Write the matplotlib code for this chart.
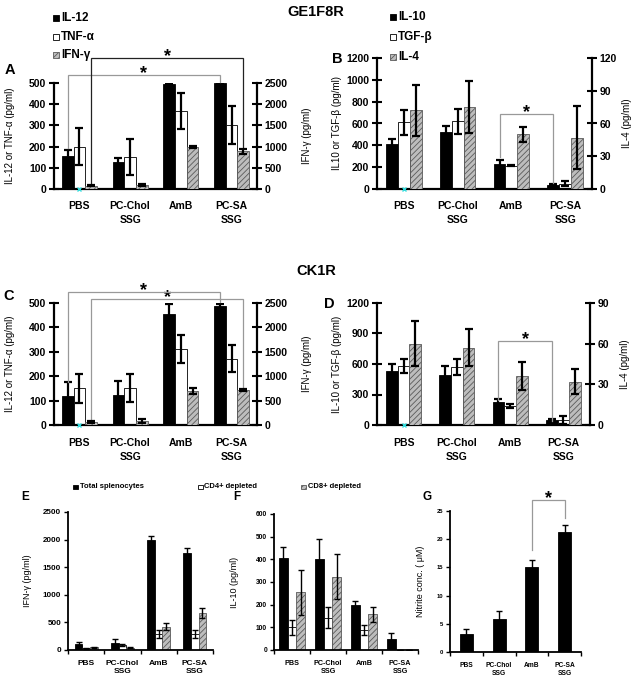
import matplotlib
matplotlib.use('Agg')
import matplotlib.pyplot as plt
import numpy as np
from matplotlib.patches import Rectangle

plt.rcParams['font.family'] = ['Liberation Sans', 'DejaVu Sans']
plt.rcParams['font.weight'] = 'bold'
plt.rcParams['hatch.linewidth'] = 0.6

W, H = 632, 681

categories = ['PBS', 'PC-Chol\nSSG', 'AmB', 'PC-SA\nSSG']

# ---- Panel A (GE1F8R): IL-12, TNF-a (left axis), IFN-g (right axis)
a_il12 = [155, 125, 497, 500]
a_il12_err = [30, 22, 5, 0]
a_tnf = [200, 153, 370, 300]
a_tnf_err = [87, 85, 85, 90]
a_ifng = [75, 95, 1000, 890]
a_ifng_err = [15, 20, 25, 55]

# ---- Panel B (GE1F8R): IL-10, TGF-b (left), IL-4 (right)
b_il10 = [415, 520, 229, 40]
b_il10_err = [40, 60, 38, 8]
b_tgf = [610, 620, 215, 48]
b_tgf_err = [113, 113, 8, 22]
b_il4 = [72, 75, 50, 47]
b_il4_err = [23, 24, 7, 29]

# ---- Panel C (CK1R)
c_il12 = [120, 125, 456, 489]
c_il12_err = [55, 57, 38, 8]
c_tnf = [150, 152, 310, 272]
c_tnf_err = [58, 56, 57, 56]
c_ifng = [62, 75, 690, 720]
c_ifng_err = [12, 40, 60, 18]

# ---- Panel D (CK1R)
d_il10 = [535, 490, 230, 46]
d_il10_err = [68, 95, 22, 10]
d_tgf = [578, 570, 185, 48]
d_tgf_err = [70, 75, 20, 40]
d_il4 = [60, 57, 36, 32]
d_il4_err = [16.5, 13.5, 10.5, 9]

# ---- Panel E: IFN-g
e_total = [110, 133, 2000, 1750]
e_total_err = [40, 60, 60, 90]
e_cd4 = [30, 90, 285, 285]
e_cd4_err = [5, 20, 70, 70]
e_cd8 = [48, 40, 425, 665]
e_cd8_err = [8, 8, 70, 90]

# ---- Panel F: IL-10
f_total = [405, 400, 198, 50]
f_total_err = [50, 90, 20, 26]
f_cd4 = [100, 143, 90, 0]
f_cd4_err = [33, 45, 22, 0]
f_cd8 = [255, 324, 158, 0]
f_cd8_err = [100, 100, 33, 0]

# ---- Panel G: Nitrite
g_nitrite = [3.2, 5.9, 15.1, 21.3]
g_nitrite_err = [0.8, 1.4, 1.2, 1.2]

GREY = '#bdbdbd'
HEDGE = '#5a5a5a'
BRK = '#999999'

st_black = dict(facecolor='black', edgecolor='black', lw=0.6)
st_white = dict(facecolor='white', edgecolor='black', lw=0.6)
st_hatch = dict(facecolor=GREY, edgecolor=HEDGE, hatch='//////', lw=0.6)

fig = plt.figure(figsize=(W / 100, H / 100), dpi=100)


def rect_px(l, t, r, b):
    return [l / W, 1 - b / H, (r - l) / W, (b - t) / H]


def bracket(ax, x1, x2, ytop, y1, y2, color, lw=0.9, fs=13):
    ax.plot([x1, x1, x2, x2], [y1, ytop, ytop, y2], color=color, lw=lw,
            clip_on=False, zorder=6, solid_joinstyle='miter')
    ax.annotate('*', xy=((x1 + x2) / 2, ytop), xytext=(0, -2.5),
                textcoords='offset points', ha='center', va='baseline',
                fontsize=fs, fontweight='bold', annotation_clip=False)


def panel_top(rect, s1, e1, s2, e2, s3, e3, llim, lticks, rlim, rticks,
              lab_l, lab_r, lab_l_x, lab_r_x, w=0.23):
    ax = fig.add_axes(rect)
    x = np.arange(len(categories))
    ax.bar(x - w, s1, w, zorder=2, **st_black)
    ax.errorbar(x - w, s1, yerr=e1, fmt='none', ecolor='black',
                elinewidth=1.6, capsize=3, capthick=1.6, zorder=3)
    ax.bar(x, s2, w, zorder=2, **st_white)
    ax.errorbar(x, s2, yerr=e2, fmt='none', ecolor='black',
                elinewidth=1.6, capsize=3, capthick=1.6, zorder=3)
    ax.set_xlim(-0.5, len(categories) - 0.5)
    ax.set_ylim(*llim)
    ax.set_yticks(lticks)
    ax.set_xticks(x)
    ax.set_xticklabels(categories)
    for t in ax.get_xticklabels():
        t.set_linespacing(1.5)
    ax.tick_params(axis='x', length=0, labelsize=7.5, pad=9)
    ax.tick_params(axis='y', direction='inout', length=7, width=1.5,
                   labelsize=7.5, pad=2)
    for s in ['top', 'right']:
        ax.spines[s].set_visible(False)
    for s in ['left', 'bottom']:
        ax.spines[s].set_linewidth(1.6)
    ax.set_ylabel(lab_l, fontsize=7)
    ax.yaxis.set_label_coords(lab_l_x, 0.5)

    ax2 = ax.twinx()
    ax2.bar(x + w, s3, w, zorder=2, **st_hatch)
    ax2.errorbar(x + w, s3, yerr=e3, fmt='none', ecolor='black',
                 elinewidth=1.6, capsize=3, capthick=1.6, zorder=3)
    ax2.set_ylim(*rlim)
    ax2.set_yticks(rticks)
    ax2.tick_params(axis='y', direction='inout', length=7, width=1.5,
                    labelsize=7.5, pad=2)
    for s in ['top', 'left', 'bottom']:
        ax2.spines[s].set_visible(False)
    ax2.spines['right'].set_linewidth(1.6)
    ax2.set_ylabel(lab_r, fontsize=7, rotation=90)
    ax2.yaxis.set_label_coords(lab_r_x, 0.5)
    # small cyan mark at the base of the PBS middle bar
    ax.plot([x[0]], [0], marker='x', color='#33dddd', ms=3, mew=1,
            clip_on=False, zorder=7)
    return ax, ax2


def panel_bottom(rect, series, errs, styles, ylim, yticks, ylab, lab_x,
                 w, tick_fs, xlab_fs, ylab_fs):
    ax = fig.add_axes(rect)
    x = np.arange(len(categories))
    n = len(series)
    for k, (s, e, st) in enumerate(zip(series, errs, styles)):
        off = (k - (n - 1) / 2) * w
        ax.bar(x + off, s, w, zorder=2, **st)
        ax.errorbar(x + off, s, yerr=e, fmt='none', ecolor='black',
                    elinewidth=1.0, capsize=2.5, capthick=1.0, zorder=3)
    ax.set_xlim(-0.5, len(categories) - 0.5)
    ax.set_ylim(*ylim)
    ax.set_yticks(yticks)
    ax.set_xticks(x)
    ax.set_xticklabels(categories)
    ax.set_xticks(np.arange(len(categories) + 1) - 0.5, minor=True)
    for t in ax.get_xticklabels():
        t.set_linespacing(1.3)
    ax.tick_params(axis='x', which='major', length=0, labelsize=xlab_fs, pad=7)
    ax.tick_params(axis='x', which='minor', length=3, width=1.0, direction='out')
    ax.tick_params(axis='y', direction='out', length=3, width=1.0,
                   labelsize=tick_fs, pad=2)
    for s in ['top', 'right']:
        ax.spines[s].set_visible(False)
    for s in ['left', 'bottom']:
        ax.spines[s].set_linewidth(1.3)
    ax.set_ylabel(ylab, fontsize=ylab_fs)
    ax.yaxis.set_label_coords(lab_x, 0.5)
    return ax


# ---------------- Panel A
w = 0.23
axA, axA2 = panel_top(rect_px(54, 83, 257, 189), a_il12, a_il12_err, a_tnf,
                      a_tnf_err, a_ifng, a_ifng_err, (0, 500),
                      [0, 100, 200, 300, 400, 500], (0, 2500),
                      [0, 500, 1000, 1500, 2000, 2500],
                      'IL-12 or TNF-α (pg/ml)', 'IFN-γ (pg/ml)', -0.19, 1.22)
bracket(axA, 0 - w, 3 - w, 538, 193, 505, BRK)
bracket(axA, 0 + w, 3 + w, 618, 28, 198, '#222222')

# ---------------- Panel B
axB, axB2 = panel_top(rect_px(377, 58, 592, 189), b_il10, b_il10_err, b_tgf,
                      b_tgf_err, b_il4, b_il4_err, (0, 1200),
                      [0, 200, 400, 600, 800, 1000, 1200], (0, 120),
                      [0, 30, 60, 90, 120],
                      'IL10 or TGF-β (pg/ml)', 'IL-4 (pg/ml)', -0.165, 1.14,
                      w=0.22)
bracket(axB, 2 - 0.22, 3 - 0.22, 687, 293, 55, BRK)

# ---------------- Panel C
axC, axC2 = panel_top(rect_px(54, 303, 257, 425), c_il12, c_il12_err, c_tnf,
                      c_tnf_err, c_ifng, c_ifng_err, (0, 500),
                      [0, 100, 200, 300, 400, 500], (0, 2500),
                      [0, 500, 1000, 1500, 2000, 2500],
                      'IL-12 or TNF-α (pg/ml)', 'IFN-γ (pg/ml)', -0.19, 1.22)
bracket(axC, 0 - w, 3 - w, 545, 176, 504, BRK)
bracket(axC, 0 + w, 3 + w, 516, 20, 156, BRK)

# ---------------- Panel D
axD, axD2 = panel_top(rect_px(377, 303, 590, 425), d_il10, d_il10_err, d_tgf,
                      d_tgf_err, d_il4, d_il4_err, (0, 1200),
                      [0, 300, 600, 900, 1200], (0, 90),
                      [0, 30, 60, 90],
                      'IL-10 or TGF-β (pg/ml)', 'IL-4 (pg/ml)', -0.165, 1.14,
                      w=0.22)
bracket(axD, 2 - 0.22, 3 - 0.22, 826, 246, 39, BRK)

# ---------------- Panels E, F, G
axE = panel_bottom(rect_px(68, 512, 213, 650), [e_total, e_cd4, e_cd8],
                   [e_total_err, e_cd4_err, e_cd8_err],
                   [st_black, st_white, st_hatch], (0, 2500),
                   [0, 500, 1000, 1500, 2000, 2500], 'IFN-γ (pg/ml)', -0.25,
                   0.21, 5.8, 6, 6.5)
axF = panel_bottom(rect_px(274, 514, 418, 650), [f_total, f_cd4, f_cd8],
                   [f_total_err, f_cd4_err, f_cd8_err],
                   [st_black, st_white, st_hatch], (0, 600),
                   [0, 100, 200, 300, 400, 500, 600], 'IL-10 (pg/ml)', -0.24,
                   0.24, 4.8, 5.2, 6.5)
axG = panel_bottom(rect_px(450, 511, 581, 652), [g_nitrite], [g_nitrite_err],
                   [st_black], (0, 25), [0, 5, 10, 15, 20, 25],
                   'Nitrite conc. ( μM)', -0.19, 0.4, 4.2, 4.8, 6.5)
bracket(axG, 2, 3, 26.95, 18.1, 23.8, BRK)

# ---------------- Titles and panel letters
fig.text(316 / W, 1 - 12 / H, 'GE1F8R', ha='center', va='center', fontsize=10.5)
fig.text(316 / W, 1 - 271 / H, 'CK1R', ha='center', va='center', fontsize=10.5)
for letter, (px, py, fs) in {'A': (9.5, 70.5, 10.5), 'B': (337, 59, 10.5),
                             'C': (8.5, 296, 10.5), 'D': (329, 304, 10.5),
                             'E': (25, 497, 8.5), 'F': (237, 497, 8.5),
                             'G': (427, 497, 8.5)}.items():
    fig.text(px / W, 1 - py / H, letter, ha='center', va='center', fontsize=fs)


# ---------------- Legends
def legend_entry(xpx, ypx, style, text, size, fs):
    r = Rectangle((xpx / W, 1 - (ypx + size / 2) / H), size / W, size / H,
                  transform=fig.transFigure, **style)
    fig.add_artist(r)
    fig.text((xpx + size + 2) / W, 1 - ypx / H, text, ha='left', va='center',
             fontsize=fs)


legend_A = ['IL-12', 'TNF-α', 'IFN-γ']
legend_B = ['IL-10', 'TGF-β', 'IL-4']
legend_E = ['Total splenocytes', 'CD4+ depleted', 'CD8+ depleted']
styles = [st_black, st_white, st_hatch]

for lbl, st, y in zip(legend_A, styles, [18, 37, 55]):
    legend_entry(53, y, st, lbl, 6, 8.5)
for lbl, st, y in zip(legend_B, styles, [17, 37, 57]):
    legend_entry(390, y, st, lbl, 6, 8.5)
for lbl, st, xx in zip(legend_E, styles, [73, 198, 301]):
    legend_entry(xx, 487, st, lbl, 4.5, 5.5)

fig.savefig('out.png', dpi=100)
